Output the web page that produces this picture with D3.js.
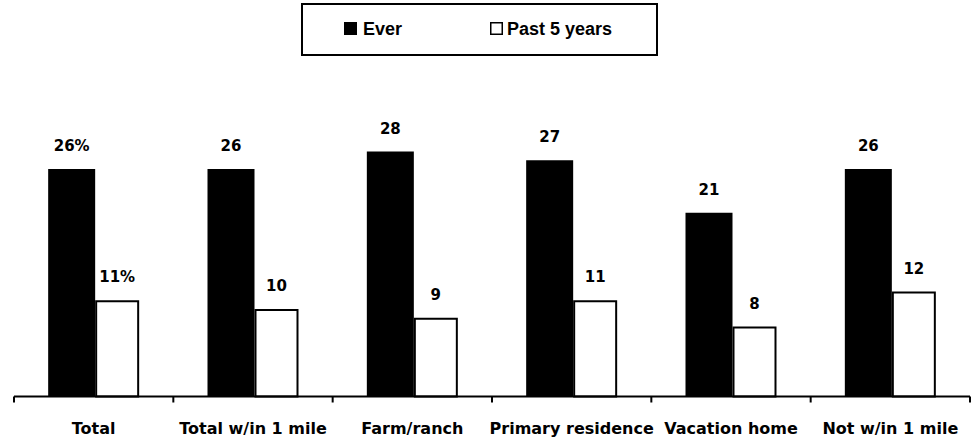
<!DOCTYPE html>
<html>
<head>
<meta charset="utf-8">
<script src="https://cdn.jsdelivr.net/npm/d3@7"></script>
<style>
html,body{margin:0;padding:0;background:#fff;}
svg{display:block;}
</style>
</head>
<body>
<svg id="chart" width="977" height="439"></svg>
<script>
const categories = ["Total", "Total w/in 1 mile", "Farm/ranch", "Primary residence", "Vacation home", "Not w/in 1 mile"];
const seriesNames = ["Ever", "Past 5 years"];
const everValues = [26, 26, 28, 27, 21, 26];
const past5Values = [11, 10, 9, 11, 8, 12];
const everLabels = ["26%", "26", "28", "27", "21", "26"];
const past5Labels = ["11%", "10", "9", "11", "8", "12"];

const svg = d3.select("#chart");
const baseY = 396.5;
const x0 = d3.scaleBand().domain(categories).range([14, 970]).padding(0);
const c = x0.bandwidth() / 2;
const x1 = d3.scaleBand().domain(seriesNames).range([c - 45.5, c + 48.5]).padding(0);
const y = d3.scaleLinear().domain([0, 30]).range([baseY, baseY - 30 * 8.75]);

const data = categories.map((cat, i) => ({
  cat: cat,
  vals: [
    {s: "Ever", v: everValues[i], lab: everLabels[i]},
    {s: "Past 5 years", v: past5Values[i], lab: past5Labels[i]}
  ]
}));

const groups = svg.selectAll("g.grp").data(data).join("g")
  .attr("class", "grp")
  .attr("transform", d => `translate(${x0(d.cat)},0)`);

const isEver = d => d.s === "Ever";

groups.selectAll("rect").data(d => d.vals).join("rect")
  .attr("x", d => isEver(d) ? x1(d.s) : x1(d.s) + 1)
  .attr("y", d => isEver(d) ? y(d.v) : y(d.v) + 1)
  .attr("width", d => isEver(d) ? x1.bandwidth() : x1.bandwidth() - 5)
  .attr("height", d => isEver(d) ? y(0) - y(d.v) : y(0) - y(d.v) - 1)
  .attr("fill", d => isEver(d) ? "#000" : "#fff")
  .attr("stroke", d => isEver(d) ? "none" : "#000")
  .attr("stroke-width", 2);

groups.selectAll("text.val").data(d => d.vals).join("text")
  .attr("class", "val")
  .attr("x", d => isEver(d) ? x1(d.s) + x1.bandwidth() / 2 : x1(d.s) + (x1.bandwidth() - 3) / 2)
  .attr("y", d => y(d.v) - 18)
  .attr("text-anchor", "middle")
  .attr("font-family", "DejaVu Sans")
  .attr("font-weight", "bold")
  .attr("font-size", "15px")
  .attr("fill", "#000")
  .text(d => d.lab);

// x axis
const axis = d3.axisBottom(x0).tickSize(0).tickPadding(0);
const axG = svg.append("g").attr("transform", `translate(0,${baseY})`).call(axis);
axG.select(".domain").remove();
axG.selectAll(".tick line").remove();
axG.selectAll(".tick text")
  .attr("y", 37.5)
  .attr("dy", 0)
  .attr("font-family", "DejaVu Sans")
  .attr("font-weight", "bold")
  .attr("font-size", "16px")
  .attr("fill", "#000");
axG.append("line").attr("x1", 14).attr("x2", 970).attr("y1", 0).attr("y2", 0)
  .attr("stroke", "#000").attr("stroke-width", 2);
const tickPos = categories.map(cat => x0(cat)).concat([x0.range()[1]]);
axG.selectAll("line.tk").data(tickPos).join("line")
  .attr("class", "tk")
  .attr("x1", d => d).attr("x2", d => d)
  .attr("y1", 0).attr("y2", 6)
  .attr("stroke", "#000").attr("stroke-width", 2);

// legend
const lg = svg.append("g");
lg.append("rect").attr("x", 302).attr("y", 4).attr("width", 355).attr("height", 51)
  .attr("fill", "#fff").attr("stroke", "#000").attr("stroke-width", 2);
const legendItems = [
  {name: seriesNames[0], sx: 344, tx: 363, fill: "#000"},
  {name: seriesNames[1], sx: 490, tx: 507, fill: "#fff"}
];
legendItems.forEach(it => {
  lg.append("rect")
    .attr("x", it.fill === "#000" ? it.sx : it.sx + 0.75)
    .attr("y", it.fill === "#000" ? 22 : 22.75)
    .attr("width", it.fill === "#000" ? 13 : 11.5)
    .attr("height", it.fill === "#000" ? 13 : 11.5)
    .attr("fill", it.fill).attr("stroke", "#000")
    .attr("stroke-width", it.fill === "#000" ? 0 : 1.5);
  lg.append("text").attr("x", it.tx).attr("y", 35)
    .attr("font-family", "Liberation Sans, Arial, sans-serif")
    .attr("font-weight", "bold")
    .attr("font-size", "18px")
    .attr("fill", "#000")
    .text(it.name);
});
</script>
</body>
</html>
